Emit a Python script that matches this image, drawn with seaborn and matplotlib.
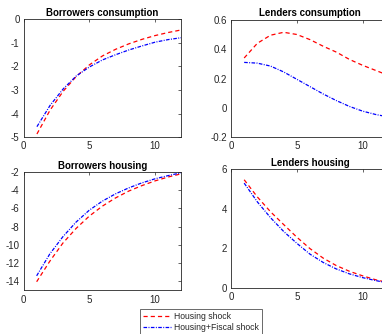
import numpy as np
import pandas as pd
import matplotlib
matplotlib.use("Agg")
import matplotlib.pyplot as plt
import seaborn as sns
from matplotlib.ticker import FuncFormatter, FixedLocator

# ---- data ----
periods = [1, 2, 3, 4, 5, 6, 7, 8, 9, 10, 11, 12]
series_names = ["Housing shock", "Housing+Fiscal shock"]
titles = ["Borrowers consumption", "Lenders consumption",
          "Borrowers housing", "Lenders housing"]

borrowers_cons_housing = [-4.86, -3.85, -3.05, -2.42, -1.93, -1.55, -1.27, -1.04, -0.85, -0.69, -0.56, -0.45]
borrowers_cons_fiscal = [-4.55, -3.65, -2.95, -2.40, -2.02, -1.72, -1.50, -1.30, -1.13, -0.97, -0.86, -0.78]

lenders_cons_housing = [0.34, 0.44, 0.495, 0.515, 0.50, 0.465, 0.42, 0.38, 0.33, 0.29, 0.255, 0.22]
lenders_cons_fiscal = [0.31, 0.305, 0.285, 0.245, 0.195, 0.145, 0.095, 0.05, 0.01, -0.022, -0.045, -0.062]

borrowers_house_housing = [-14.05, -11.8, -9.8, -8.2, -6.85, -5.75, -4.85, -4.1, -3.5, -2.98, -2.55, -2.2]
borrowers_house_fiscal = [-13.4, -11.0, -9.1, -7.5, -6.2, -5.2, -4.4, -3.75, -3.2, -2.75, -2.4, -2.08]

lenders_house_housing = [5.47, 4.6, 3.85, 3.2, 2.56, 1.98, 1.5, 1.12, 0.83, 0.6, 0.40, 0.25]
lenders_house_fiscal = [5.3, 4.35, 3.55, 2.85, 2.25, 1.70, 1.28, 0.95, 0.70, 0.51, 0.36, 0.23]

panel_values = [
    (borrowers_cons_housing, borrowers_cons_fiscal),
    (lenders_cons_housing, lenders_cons_fiscal),
    (borrowers_house_housing, borrowers_house_fiscal),
    (lenders_house_housing, lenders_house_fiscal),
]
panel_ylims = [(-5, 0), (-0.2, 0.6), (-15, -2), (0, 6)]
panel_yticks = [[-5, -4, -3, -2, -1, 0],
                [-0.2, 0, 0.2, 0.4, 0.6],
                [-14, -12, -10, -8, -6, -4, -2],
                [0, 2, 4, 6]]
xticks = [0, 5, 10]

# ---- style ----
sns.set_style("white")
plt.rcParams["font.family"] = ["Liberation Sans", "DejaVu Sans"]
plt.rcParams["axes.unicode_minus"] = False
plt.rcParams["lines.scale_dashes"] = False

W, H = 382, 334
fig = plt.figure(figsize=(W / 100, H / 100), dpi=100)

# axes boxes in pixels: left, top, right, bottom
boxes = [(23.8, 19.3, 181.3, 137.3),
         (231.0, 19.8, 389.0, 137.3),
         (23.5, 172.0, 181.2, 290.4),
         (231.0, 169.3, 389.0, 287.7)]

palette = {"Housing shock": "#ff0000", "Housing+Fiscal shock": "#0000ff"}
dashes = {"Housing shock": (3.0, 2.2), "Housing+Fiscal shock": (2.6, 1.0, 0.7, 1.0)}
gray = "#262626"

axes = []
for i, (l, t, r, b) in enumerate(boxes):
    ax = fig.add_axes([l / W, 1 - b / H, (r - l) / W, (b - t) / H])
    h_vals, f_vals = panel_values[i]
    df = pd.DataFrame({
        "period": periods + periods,
        "value": list(h_vals) + list(f_vals),
        "series": [series_names[0]] * len(periods) + [series_names[1]] * len(periods),
    })
    sns.lineplot(data=df, x="period", y="value", hue="series", style="series",
                 palette=palette, dashes=dashes, linewidth=0.9, ax=ax,
                 legend=(i == 0), errorbar=None)
    ax.set_xlim(0, 12)
    ax.set_ylim(*panel_ylims[i])
    ax.xaxis.set_major_locator(FixedLocator(xticks))
    ax.yaxis.set_major_locator(FixedLocator(panel_yticks[i]))
    ax.yaxis.set_major_formatter(FuncFormatter(lambda v, p: "{:g}".format(round(v, 6))))
    ax.set_xlabel("")
    ax.set_ylabel("")
    ax.set_title(titles[i], fontsize=7, fontweight="bold", pad=2.5, color="black")
    ax.tick_params(direction="in", length=2.5, width=0.5, labelsize=7,
                   colors=gray, top=True, right=True, pad=3)
    for s in ax.spines.values():
        s.set_color(gray)
        s.set_linewidth(0.6)
        s.set_visible(True)
    axes.append(ax)

handles, labels = axes[0].get_legend_handles_labels()
axes[0].get_legend().remove()
leg = fig.legend(handles, labels, loc="upper left",
                 bbox_to_anchor=(140 / W, 1 - 309 / H),
                 bbox_transform=fig.transFigure,
                 fontsize=6.2, frameon=True, fancybox=False,
                 edgecolor=gray, handlelength=3.3, handletextpad=0.35,
                 borderpad=0.35, labelspacing=0.2, borderaxespad=0)
leg.get_frame().set_linewidth(0.6)

fig.savefig("out.png", dpi=100)
